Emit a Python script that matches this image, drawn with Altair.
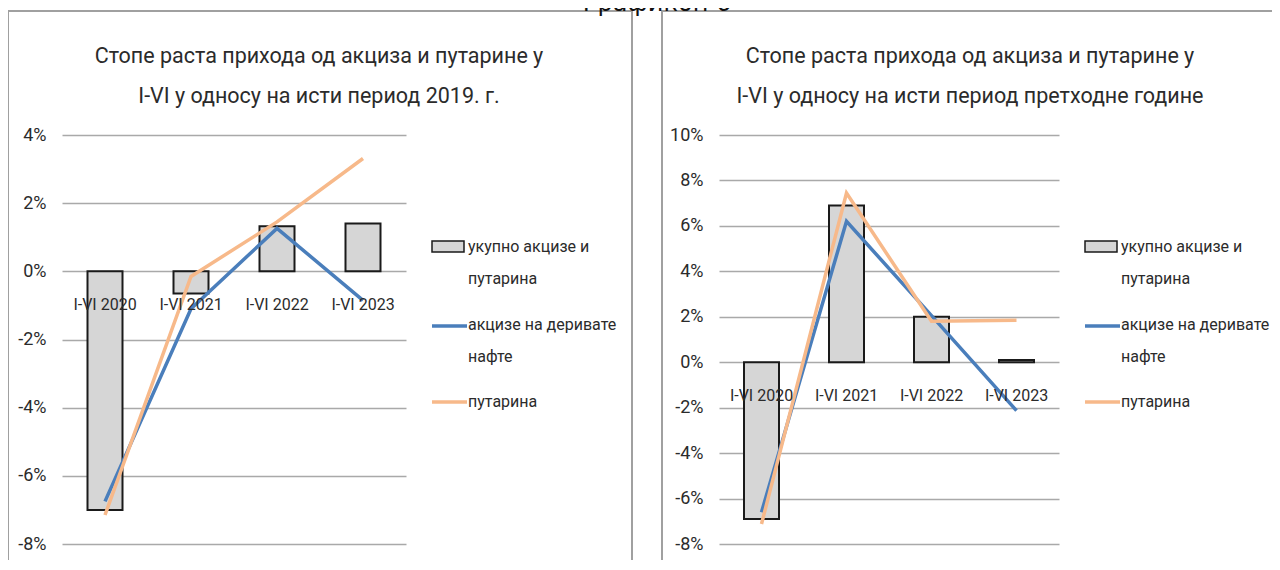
import altair as alt
import pandas as pd

# ---------------- data ----------------
categories = ["I-VI 2020", "I-VI 2021", "I-VI 2022", "I-VI 2023"]
series_names = ["укупно акцизе и путарина", "акцизе на деривате нафте", "путарина"]

left_total = [-7.0, -0.65, 1.32, 1.40]
left_oil = [-6.75, -1.1, 1.26, -0.85]
left_toll = [-7.15, -0.15, 1.45, 3.31]

right_total = [-6.9, 6.9, 2.0, 0.1]
right_oil = [-6.6, 6.2, 2.05, -2.13]
right_toll = [-7.12, 7.45, 1.8, 1.85]

left_ticks = [-8, -6, -4, -2, 0, 2, 4]
right_ticks = [-8, -6, -4, -2, 0, 2, 4, 6, 8, 10]

left_title = ["Стопе раста прихода од акциза и путарине у",
              "I-VI у односу на исти период 2019. г."]
right_title = ["Стопе раста прихода од акциза и путарине у",
               "I-VI у односу на исти период претходне године"]
legend_lines = [["укупно акцизе и", "путарина"],
                ["акцизе на деривате", "нафте"],
                ["путарина"]]
super_title = "Графикон 6"

# ---------------- style ----------------
FONT = "Roboto"
BLUE = "#4a7ebb"
ORANGE = "#f7b98a"
BAR_FILL = "#d6d6d6"
GRID = "#a9a9a9"
FRAME = "#a0a0a0"
TXT = "#2b2b2b"

one = pd.DataFrame({"k": [0]})


def panel(total, oil, toll, ticks, title_lines, W, H, frame_x1, frame_x2, title_x):
    bars = pd.DataFrame({"cat": categories, "v": total, "s": series_names[0]})
    lines = pd.DataFrame({
        "cat": categories * 2,
        "v": oil + toll,
        "s": [series_names[1]] * 4 + [series_names[2]] * 4,
    })
    xenc = alt.X("cat:N", sort=categories,
                 scale=alt.Scale(paddingInner=0, paddingOuter=0), axis=None)
    yscale = alt.Scale(domain=[ticks[0], ticks[-1]], nice=False, zero=False)
    yenc = alt.Y("v:Q", scale=yscale, title=None,
                 axis=alt.Axis(values=ticks, labelExpr="datum.value + '%'",
                               domain=False, ticks=False, grid=True,
                               gridColor=GRID, gridWidth=1.5,
                               labelFont=FONT, labelFontSize=18,
                               labelColor=TXT, labelPadding=16))

    frame = alt.Chart(one).mark_rect(filled=False, stroke=FRAME, strokeWidth=2).encode(
        x=alt.value(frame_x1), x2=alt.value(frame_x2),
        y=alt.value(-124), y2=alt.value(445))

    bar = alt.Chart(bars).mark_bar(size=35, color=BAR_FILL, stroke="#1a1a1a",
                                   strokeWidth=2).encode(x=xenc, y=yenc)

    line = alt.Chart(lines).mark_line(strokeWidth=3.5).encode(
        x=xenc, y=alt.Y("v:Q", scale=yscale),
        color=alt.Color("s:N", sort=series_names[1:],
                        scale=alt.Scale(domain=series_names[1:], range=[BLUE, ORANGE]),
                        legend=None),
    )

    cat_labels = alt.Chart(pd.DataFrame({"cat": categories})).mark_text(
        dy=34, baseline="middle", font=FONT, fontSize=16, color=TXT).encode(
        x=xenc, y=alt.datum(0), text="cat:N")

    t1 = alt.Chart(one).mark_text(text=title_lines[0], font=FONT, fontSize=21.5,
                                  color=TXT, align="center", baseline="alphabetic").encode(
        x=alt.value(title_x), y=alt.value(-72))
    t2 = alt.Chart(one).mark_text(text=title_lines[1], font=FONT, fontSize=21.5,
                                  color=TXT, align="center", baseline="alphabetic").encode(
        x=alt.value(title_x), y=alt.value(-32))

    lx = W + 26
    leg = [
        alt.Chart(one).mark_rect(fill=BAR_FILL, stroke="#1a1a1a", strokeWidth=1.5).encode(
            x=alt.value(lx), x2=alt.value(lx + 32), y=alt.value(106), y2=alt.value(117)),
        alt.Chart(one).mark_rule(color=BLUE, strokeWidth=3.5).encode(
            x=alt.value(lx), x2=alt.value(lx + 35), y=alt.value(191)),
        alt.Chart(one).mark_rule(color=ORANGE, strokeWidth=3.5).encode(
            x=alt.value(lx), x2=alt.value(lx + 35), y=alt.value(267)),
    ]
    ys = [[112, 144], [190, 222], [267]]
    for lines_txt, yy in zip(legend_lines, ys):
        for t, yv in zip(lines_txt, yy):
            leg.append(alt.Chart(one).mark_text(text=t, font=FONT, fontSize=16, color=TXT,
                                                align="left", baseline="middle").encode(
                x=alt.value(lx + 36), y=alt.value(yv)))

    return alt.layer(frame, bar, line, cat_labels, t1, t2, *leg).properties(width=W, height=H)


left = panel(left_total, left_oil, left_toll, left_ticks, left_title,
             344, 409, -54, 570, 257)
right = panel(right_total, right_oil, right_toll, right_ticks, right_title,
              340, 409, -57, 573, 251)

chart = alt.hconcat(left, right, spacing=28).properties(
    title=alt.TitleParams(text=super_title, anchor="middle", frame="bounds", dx=7,
                          offset=-25, baseline="alphabetic", font="DejaVu Sans",
                          fontSize=24, fontWeight="normal", color="#111"),
    padding={"top": -16, "left": -1, "right": -21, "bottom": -21},
    background="white",
).configure_view(stroke=None)

chart.save("out.html", embed_options={"renderer": "svg", "actions": False})
